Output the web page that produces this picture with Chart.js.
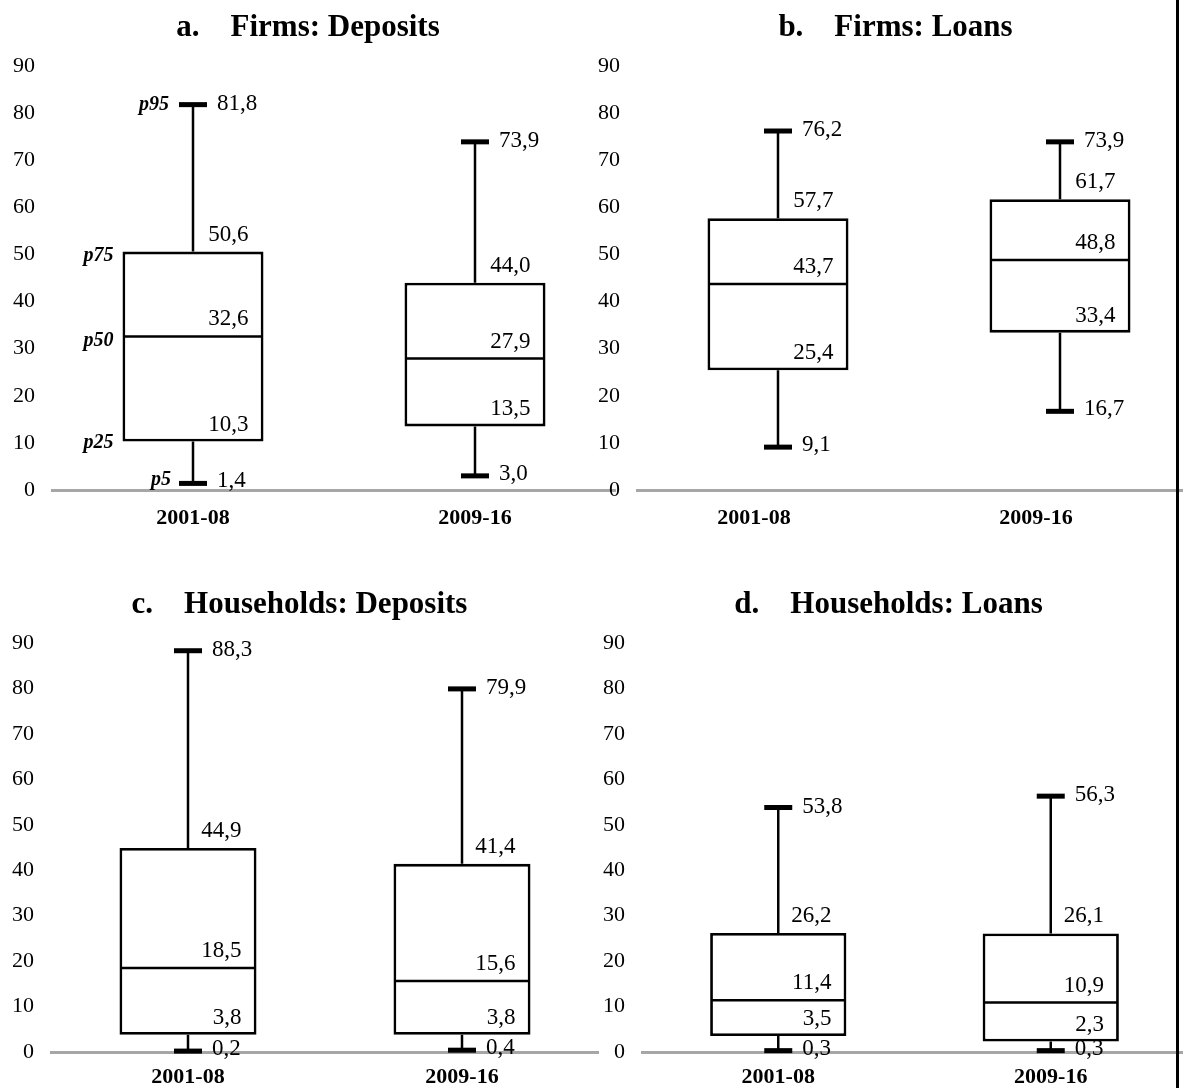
<!DOCTYPE html>
<html>
<head>
<meta charset="utf-8">
<script src="https://cdn.jsdelivr.net/npm/chart.js@4.4.1/dist/chart.umd.min.js"></script>
<style>
  html, body { margin: 0; padding: 0; background: #fff; overflow: hidden; }
  body { width: 1183px; height: 1088px; position: relative; }
  canvas { position: absolute; }
  #edge { position: absolute; left: 1176px; top: 0; width: 3px; height: 1088px; background: #000; }
</style>
</head>
<body>
<canvas id="panel-a" width="616" height="540" style="left:0;top:0"></canvas>
<canvas id="panel-b" width="611" height="540" style="left:590px;top:0"></canvas>
<canvas id="panel-c" width="599" height="511" style="left:0;top:577px"></canvas>
<canvas id="panel-d" width="597" height="511" style="left:590px;top:577px"></canvas>
<div id="edge"></div>
<script>
// --- DATA (percentiles per panel, one pair per period) ---
const periods = ['2001-08', '2009-16'];
const panelTitles = [
    'a.\u2003Firms: Deposits',
    'b.\u2003Firms: Loans',
    'c.\u2003Households: Deposits',
    'd.\u2003Households: Loans'
];
const p5Values  = [[1.4, 3.0],   [9.1, 16.7],  [0.2, 0.4],   [0.3, 0.3]];
const p25Values = [[10.3, 13.5], [25.4, 33.4], [3.8, 3.8],   [3.5, 2.3]];
const p50Values = [[32.6, 27.9], [43.7, 48.8], [18.5, 15.6], [11.4, 10.9]];
const p75Values = [[50.6, 44.0], [57.7, 61.7], [44.9, 41.4], [26.2, 26.1]];
const p95Values = [[81.8, 73.9], [76.2, 73.9], [88.3, 79.9], [53.8, 56.3]];
const yMin = 0, yMax = 90, yStep = 10;

// --- LAYOUT per canvas ---
const panels = [
    { id: 'panel-a', yWidth: 52, xHeight: 50, xPad: 15, labelOffset: 0,   legendMarks: true },
    { id: 'panel-b', yWidth: 47, xHeight: 50, xPad: 15, labelOffset: -24, legendMarks: false },
    { id: 'panel-c', yWidth: 51, xHeight: 36, xPad: 12, labelOffset: 0,   legendMarks: false },
    { id: 'panel-d', yWidth: 52, xHeight: 36, xPad: 12, labelOffset: 0,   legendMarks: false }
];

const FONT = "'Liberation Serif', 'Times New Roman', serif";
const fmt = v => v.toFixed(1).replace('.', ',');

// whiskers, caps, median line and value labels, placed through the chart scales
const boxPlotMarks = {
    id: 'boxPlotMarks',
    afterDatasetsDraw(chart, args, opts) {
        const { ctx, scales: { x, y } } = chart;
        const k = opts.panel;
        const meta = chart.getDatasetMeta(0);
        const py = v => y.getPixelForValue(v);

        ctx.save();
        periods.forEach((p, i) => {
            const cx = x.getPixelForValue(i);
            const half = meta.data[i].width / 2;
            const lo = p5Values[k][i], q1 = p25Values[k][i], med = p50Values[k][i],
                  q3 = p75Values[k][i], hi = p95Values[k][i];

            ctx.strokeStyle = '#000';
            ctx.lineWidth = 2.5;
            ctx.beginPath();
            ctx.moveTo(cx, py(q3)); ctx.lineTo(cx, py(hi));
            ctx.moveTo(cx, py(q1)); ctx.lineTo(cx, py(lo));
            ctx.moveTo(cx - half + 1, py(med)); ctx.lineTo(cx + half - 1, py(med));
            ctx.stroke();

            ctx.fillStyle = '#000';
            ctx.fillRect(cx - 14, py(hi) - 2.5, 28, 5);
            ctx.fillRect(cx - 14, py(lo) - 2.5, 28, 5);

            ctx.font = '23px ' + FONT;
            ctx.textBaseline = 'middle';
            ctx.textAlign = 'left';
            ctx.fillText(fmt(hi), cx + 24, py(hi) - 1);
            ctx.fillText(fmt(lo), cx + 24, py(lo) - 2);
            ctx.textAlign = 'right';
            [q3, med, q1].forEach(v => ctx.fillText(fmt(v), cx + half - 15, py(v) - 17));

            if (opts.legendMarks && i === 0) {
                ctx.font = 'italic bold 20px ' + FONT;
                ctx.fillText('p95', cx - 24, py(hi));
                ctx.fillText('p75', cx - half - 9, py(q3) + 4);
                ctx.fillText('p50', cx - half - 9, py(med) + 4);
                ctx.fillText('p25', cx - half - 9, py(q1) + 1);
                ctx.fillText('p5', cx - 22, py(lo) - 4);
            }
        });
        ctx.restore();
    }
};

panels.forEach((cfg, k) => {
    const ctx = document.getElementById(cfg.id).getContext('2d');
    new Chart(ctx, {
        type: 'bar',
        data: {
            labels: periods,
            datasets: [{
                label: 'p25-p75',
                data: periods.map((p, i) => [p25Values[k][i], p75Values[k][i]]),
                backgroundColor: '#ffffff',
                borderColor: '#000000',
                borderWidth: 2.8,
                borderSkipped: false,
                barPercentage: 0.5,
                categoryPercentage: 1.0
            }]
        },
        options: {
            responsive: false,
            animation: false,
            layout: { padding: 0 },
            plugins: {
                legend: { display: false },
                tooltip: { enabled: false },
                title: {
                    display: true,
                    text: panelTitles[k],
                    color: '#000',
                    font: { family: FONT, size: 31, weight: 'bold', lineHeight: 1.2 },
                    padding: { top: 9.4, bottom: 19.4 }
                },
                boxPlotMarks: { panel: k, legendMarks: cfg.legendMarks }
            },
            scales: {
                x: {
                    grid: { display: false, drawTicks: false },
                    border: { display: true, color: '#a6a6a6', width: 3 },
                    ticks: {
                        color: '#000',
                        padding: cfg.xPad,
                        labelOffset: cfg.labelOffset,
                        font: { family: FONT, size: 22, weight: 'bold' }
                    },
                    afterFit: s => { s.height = cfg.xHeight; }
                },
                y: {
                    min: yMin,
                    max: yMax,
                    grid: { display: false, drawTicks: false },
                    border: { display: false },
                    ticks: {
                        stepSize: yStep,
                        color: '#000',
                        padding: 17,
                        font: { family: FONT, size: 22 }
                    },
                    afterFit: s => { s.width = cfg.yWidth; }
                }
            }
        },
        plugins: [boxPlotMarks]
    });
});
</script>
</body>
</html>
